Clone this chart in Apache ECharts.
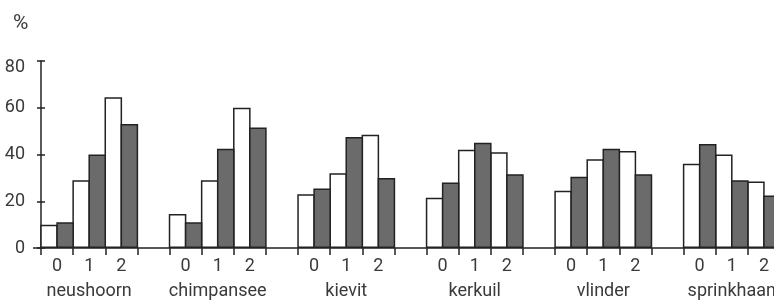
<!DOCTYPE html>
<html>
<head>
<meta charset="utf-8">
<script src="https://cdn.jsdelivr.net/npm/echarts@6/dist/echarts.min.js"></script>
<style>
html,body{margin:0;padding:0;background:#fff;overflow:hidden;}
#chart{width:780px;height:304px;}
</style>
</head>
<body>
<div id="chart"></div>
<script>
// Data
var groups = ['neushoorn', 'chimpansee', 'kievit', 'kerkuil', 'vlinder', 'sprinkhaan'];
var levels = ['0', '1', '2'];
var yTicks = [0, 20, 40, 60, 80];
// white bars (per group, levels 0,1,2)
var whiteValues = [
  [10, 29, 64.5],
  [14.5, 29, 60],
  [23, 32, 48.5],
  [21.5, 42, 41],
  [24.5, 38, 41.5],
  [36, 40, 28.5]
];
// gray bars (per group, levels 0,1,2)
var grayValues = [
  [11, 40, 53],
  [11, 42.5, 51.5],
  [25.5, 47.5, 30],
  [28, 45, 31.5],
  [30.5, 42.5, 31.5],
  [44.5, 29, 22.5]
];

// Build category slots: 3 levels + 1 gap per group (no gap after last)
var cats = [], white = [], gray = [];
groups.forEach(function (g, gi) {
  levels.forEach(function (l, li) {
    cats.push(li === 1 ? l + '\n' + g : l);
    white.push(whiteValues[gi][li]);
    gray.push(grayValues[gi][li]);
  });
  if (gi < groups.length - 1) {
    cats.push('');
    white.push('-');
    gray.push('-');
  }
});

var font = 'Roboto';
var fs = 18;
var txt = '#3a3a3a';
var gridLeft = 41, gridRight = 0, W = 780;
var border = 1.5;
var slot = (W - gridLeft - gridRight) / cats.length;
var barW = slot / 2 + border;            // borders overlap so shared edges look single
var gapPct = (-border / barW * 100) + '%';

var chart = echarts.init(document.getElementById('chart'), null, {renderer: 'canvas'});
chart.setOption({
  animation: false,
  backgroundColor: '#fff',
  title: {
    text: '%', left: 8, top: 8,
    textStyle: {fontFamily: font, fontSize: 21, fontWeight: 'normal', color: txt}
  },
  grid: {left: gridLeft, right: gridRight, top: 61, bottom: 54},
  xAxis: {
    type: 'category',
    data: cats,
    boundaryGap: true,
    axisLine: {lineStyle: {color: '#222', width: 1.5}},
    axisTick: {show: true, length: 7, interval: 0, lineStyle: {color: '#222', width: 1.5}},
    axisLabel: {
      interval: 0, margin: 6, lineHeight: 25,
      fontFamily: font, fontSize: fs, color: txt
    },
    splitLine: {show: false}
  },
  yAxis: [{
    type: 'value', min: 0, max: 80, interval: 20,
    axisLine: {show: true, lineStyle: {color: '#222', width: 1.5}},
    axisTick: {show: true, length: 4, lineStyle: {color: '#222', width: 1.5}},
    axisLabel: {
      margin: 16, fontFamily: font, fontSize: fs, color: txt,
      formatter: function (v) {
        if (yTicks.indexOf(v) < 0) return '';
        return v === 80 ? '{low|' + v + '}' : String(v);
      },
      rich: {low: {fontFamily: font, fontSize: fs, color: txt, padding: [12, 0, 0, 0]}}
    },
    splitLine: {show: false}
  }, {
    type: 'value', min: 0, max: 80, interval: 20, position: 'left', offset: 0,
    axisLine: {show: false},
    axisTick: {show: true, inside: true, length: 4, lineStyle: {color: '#222', width: 1.5}},
    axisLabel: {show: false},
    splitLine: {show: false}
  }],
  series: [{
    type: 'bar', name: 'white', data: white,
    barWidth: barW, barGap: gapPct,
    itemStyle: {color: '#fff', borderColor: '#222', borderWidth: border}
  }, {
    type: 'bar', name: 'gray', data: gray,
    barWidth: barW, barGap: gapPct,
    itemStyle: {color: '#6b6b6b', borderColor: '#222', borderWidth: border}
  }]
});
// short extension of the x axis line to the left of the y axis
var p0 = chart.convertToPixel({yAxisIndex: 0}, 0);
chart.setOption({
  graphic: [{
    type: 'line', silent: true,
    shape: {x1: 33, y1: p0, x2: gridLeft, y2: p0},
    style: {stroke: '#222', lineWidth: 1.5}
  }]
});
</script>
</body>
</html>
